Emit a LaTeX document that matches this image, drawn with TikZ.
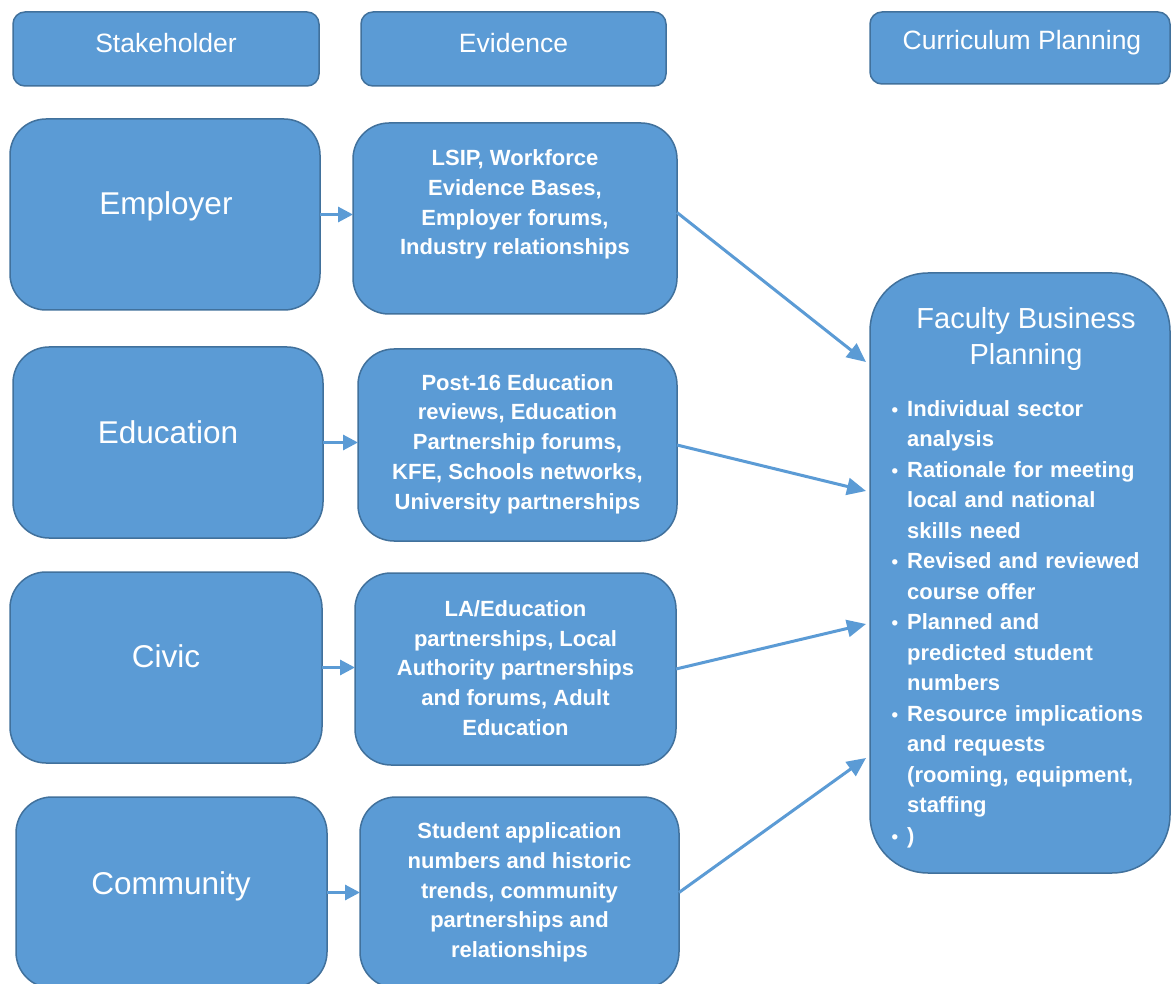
\documentclass[tikz,border=0pt]{standalone}
\usepackage{fontspec}
\setmainfont{Liberation Sans}
\usetikzlibrary{arrows.meta}
\definecolor{boxfill}{HTML}{5B9BD5}
\definecolor{boxedge}{HTML}{41719C}
\newcommand{\bul}{\leavevmode\llap{\scalebox{0.85}{•}\hspace{9pt}}}
\begin{document}
\begin{tikzpicture}[x=1pt,y=-1pt,
  box/.style={draw=boxedge,fill=boxfill,line width=1.5pt,inner sep=0pt,outer sep=0pt},
  hdrbox/.style={box,rounded corners=12pt},
  bigbox/.style={box,rounded corners=36pt},
  hdr/.style={text=white,inner sep=0pt,anchor=base,font=\fontsize{26.5}{30}\selectfont},
  lab/.style={text=white,inner sep=0pt,anchor=base,font=\fontsize{31.5}{36}\selectfont},
  evt/.style={text=white,inner sep=0pt,anchor=center,align=center,font=\bfseries\fontsize{22}{29.7}\selectfont},
  arr/.style={draw=boxfill,line width=3pt,-{Triangle[length=15pt,width=15pt]}},
  darr/.style={draw=boxfill,line width=3pt,-{Triangle[length=19pt,width=17pt]}}
]
\useasboundingbox (0,0) rectangle (1171,984);
\clip (0,0) rectangle (1171,984);
\fill[white] (0,0) rectangle (1171,984);

% header boxes
\node[hdrbox,minimum width=306pt,minimum height=74pt] (hs) at (166,49) {};
\node[hdrbox,minimum width=305pt,minimum height=74pt] (he) at (513.5,49) {};
\node[hdrbox,minimum width=300pt,minimum height=72pt] (hc) at (1020,48) {};
\node[hdr] (hst) at (166,53) {Stakeholder};
\node[hdr] (het) at (513.5,53) {Evidence};
\node[hdr] (hct) at (1022,50) {Curriculum Planning};

% stakeholder boxes
\node[bigbox,minimum width=310pt,minimum height=191pt] (emp) at (165,214.5) {};
\node[bigbox,minimum width=310pt,minimum height=191pt] (edu) at (168,442.5) {};
\node[bigbox,minimum width=312pt,minimum height=191pt] (civ) at (166,667.5) {};
\node[bigbox,minimum width=311pt,minimum height=191pt] (com) at (171.5,892.5) {};
\node[lab] (empt) at (166,215) {Employer};
\node[lab] (edut) at (168,443) {Education};
\node[lab] (civt) at (166,667) {Civic};
\node[lab] (comt) at (171,894) {Community};

% evidence boxes
\node[bigbox,minimum width=324pt,minimum height=191pt] (ev1) at (515,218.5) {};
\node[bigbox,minimum width=319pt,minimum height=192pt] (ev2) at (517.5,445) {};
\node[bigbox,minimum width=321pt,minimum height=192pt] (ev3) at (515.5,669) {};
\node[bigbox,minimum width=319pt,minimum height=191pt] (ev4) at (519.5,892.5) {};
\node[evt] (ev1t) at (515,204.5) {LSIP, Workforce\\Evidence Bases,\\Employer forums,\\Industry relationships};
\node[evt] (ev2t) at (517.5,444) {Post-16 Education\\reviews, Education\\Partnership forums,\\KFE, Schools networks,\\University partnerships};
\node[evt] (ev3t) at (515.5,668) {LA/Education\\partnerships, Local\\Authority partnerships\\and forums, Adult\\Education};
\node[evt] (ev4t) at (519.5,892.5) {Student application\\numbers and historic\\trends, community\\partnerships and\\relationships};

% faculty box
\node[box,rounded corners=58pt,minimum width=300pt,minimum height=600pt] (fac) at (1020,573) {};
\node[text=white,inner sep=0pt,align=center,font=\fontsize{29}{36}\selectfont] (fact) at (1026,339) {Faculty Business\\Planning};
\node[text=white,inner sep=0pt,anchor=west,text width=262pt,align=left,font=\bfseries\fontsize{22}{30.5}\selectfont] (facl) at (907,624)
{\bul Individual sector\\
analysis\\
\bul Rationale for meeting\\
local and national\\
skills need\\
\bul Revised and reviewed\\
course offer\\
\bul Planned and\\
predicted student\\
numbers\\
\bul Resource implications\\
and requests\\
(rooming, equipment,\\
staffing\\
\bul )};

% arrow targets
\coordinate (t1) at (866,362);
\coordinate (t2) at (866,491);
\coordinate (t3) at (866,624);
\coordinate (t4) at (866,758);

% horizontal arrows
\draw[arr] (emp.east) -- (emp.east -| ev1.west);
\draw[arr] (edu.east) -- (edu.east -| ev2.west);
\draw[arr] (civ.east) -- (civ.east -| ev3.west);
\draw[arr] (com.east) -- (com.east -| ev4.west);

% diagonal arrows
\draw[darr] ([yshift=6pt]ev1.east) -- (t1);
\draw[darr] (ev2.east) -- (t2);
\draw[darr] (ev3.east) -- (t3);
\draw[darr] (ev4.east) -- (t4);
\end{tikzpicture}
\end{document}
